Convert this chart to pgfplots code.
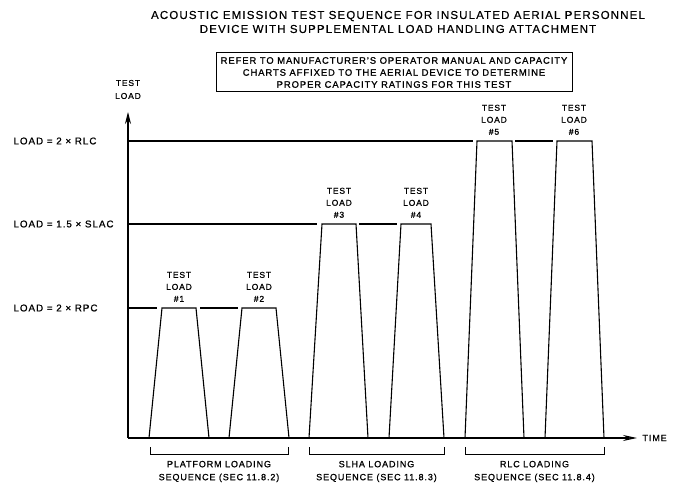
\documentclass[border=0pt]{standalone}
\usepackage{fontspec}
\setmainfont{Liberation Sans}[LetterSpace=10, FakeBold=1]
\newfontfamily\thin{Liberation Sans}[LetterSpace=10, FakeBold=0.4]
\usepackage{pgfplots}
\pgfplotsset{compat=1.18}
\usetikzlibrary{arrows.meta}

\newcommand{\lbl}{\fontsize{9}{12}\selectfont}

% x = time (px from the load axis), y = load (px above the time axis)
% levels: 2 x RPC = 130, 1.5 x SLAC = 214, 2 x RLC = 297

\begin{document}
\begin{tikzpicture}
\begin{axis}[
  scale only axis, width=509pt, height=326pt,
  xmin=0, xmax=509, ymin=0, ymax=326,
  axis lines=left,
  axis line style={line width=1.2pt},
  x axis line style={-{Stealth[open, length=14pt, width=6pt]}},
  y axis line style={-{Stealth[length=12pt, width=6pt, inset=4pt]}},
  xtick=\empty,
  ytick={130,214,297},
  yticklabels={LOAD = 2 × RPC, LOAD = 1.5 × SLAC, LOAD = 2 × RLC},
  major tick length=0pt,
  yticklabel style={font={\fontsize{9.8}{12}\selectfont}, anchor=west, xshift=-118pt},
  clip=false,
  unbounded coords=jump,
  trace/.style={black, solid, line width=1.1pt, mark=none},
]
\path (axis cs:-128,-47) rectangle (axis cs:548,438);

% reference levels
\addplot[trace] coordinates {(0,130) (29,130) (nan,nan) (72,130) (110,130)};
\addplot[trace] coordinates {(0,214) (189,214) (nan,nan) (231,214) (269,214)};
\addplot[trace] coordinates {(0,297) (345,297) (nan,nan) (387,297) (425,297)};

% test loads
\addplot[trace] coordinates {(21,0) (34,130) (68,130) (81,0)};
\addplot[trace] coordinates {(101,0) (114,130) (148,130) (161,0)};
\addplot[trace] coordinates {(181,0) (194,214) (228,214) (240,0)};
\addplot[trace] coordinates {(261,0) (273,214) (303,214) (316,0)};
\addplot[trace] coordinates {(337,0) (349,297) (384,297) (396,0)};
\addplot[trace] coordinates {(417,0) (429,297) (464,297) (476,0)};

% sequence brackets
\addplot[trace, line width=0.9pt] coordinates {(22,-9) (22,-16) (160,-16) (160,-9)};
\addplot[trace, line width=0.9pt] coordinates {(181,-9) (181,-16) (316,-16) (316,-9)};
\addplot[trace, line width=0.9pt] coordinates {(337,-9) (337,-16) (476,-16) (476,-9)};

\node[font={\fontsize{8.5}{12}\selectfont}, align=center, anchor=south, inner sep=0] at (axis cs:51,136) {TEST\\LOAD\\\#1};
\node[font={\fontsize{8.5}{12}\selectfont}, align=center, anchor=south, inner sep=0] at (axis cs:131,136) {TEST\\LOAD\\\#2};
\node[font={\fontsize{8.5}{12}\selectfont}, align=center, anchor=south, inner sep=0] at (axis cs:211,220) {TEST\\LOAD\\\#3};
\node[font={\fontsize{8.5}{12}\selectfont}, align=center, anchor=south, inner sep=0] at (axis cs:288,220) {TEST\\LOAD\\\#4};
\node[font={\fontsize{8.5}{12}\selectfont}, align=center, anchor=south, inner sep=0] at (axis cs:366,303) {TEST\\LOAD\\\#5};
\node[font={\fontsize{8.5}{12}\selectfont}, align=center, anchor=south, inner sep=0] at (axis cs:446,303) {TEST\\LOAD\\\#6};

\node[font={\fontsize{9}{13}\selectfont}, align=center] at (axis cs:91,-33.5) {PLATFORM LOADING\\SEQUENCE (SEC 11.8.2)};
\node[font={\fontsize{9}{13}\selectfont}, align=center] at (axis cs:248.5,-33.5) {SLHA LOADING\\SEQUENCE (SEC 11.8.3)};
\node[font={\fontsize{9}{13}\selectfont}, align=center] at (axis cs:406.5,-33.5) {RLC LOADING\\SEQUENCE (SEC 11.8.4)};

\node[font={\fontsize{8.5}{13}\selectfont}, align=center] at (axis cs:0,348.5) {TEST\\LOAD};
\node[font=\lbl, anchor=west] at (axis cs:511,0) {TIME};

\node[font={\thin\fontsize{11.5}{14}\selectfont}, align=center] at (axis cs:270,416)
  {ACOUSTIC EMISSION TEST SEQUENCE FOR INSULATED AERIAL PERSONNEL\\DEVICE WITH SUPPLEMENTAL LOAD HANDLING ATTACHMENT};
\node[draw, line width=1pt, font={\fontsize{9.4}{12}\selectfont}, align=center, minimum width=356pt, minimum height=39pt, inner sep=0] at (axis cs:266,365.5)
  {REFER TO MANUFACTURER'S OPERATOR MANUAL AND CAPACITY\\CHARTS AFFIXED TO THE AERIAL DEVICE TO DETERMINE\\PROPER CAPACITY RATINGS FOR THIS TEST};
\end{axis}
\end{tikzpicture}
\end{document}
